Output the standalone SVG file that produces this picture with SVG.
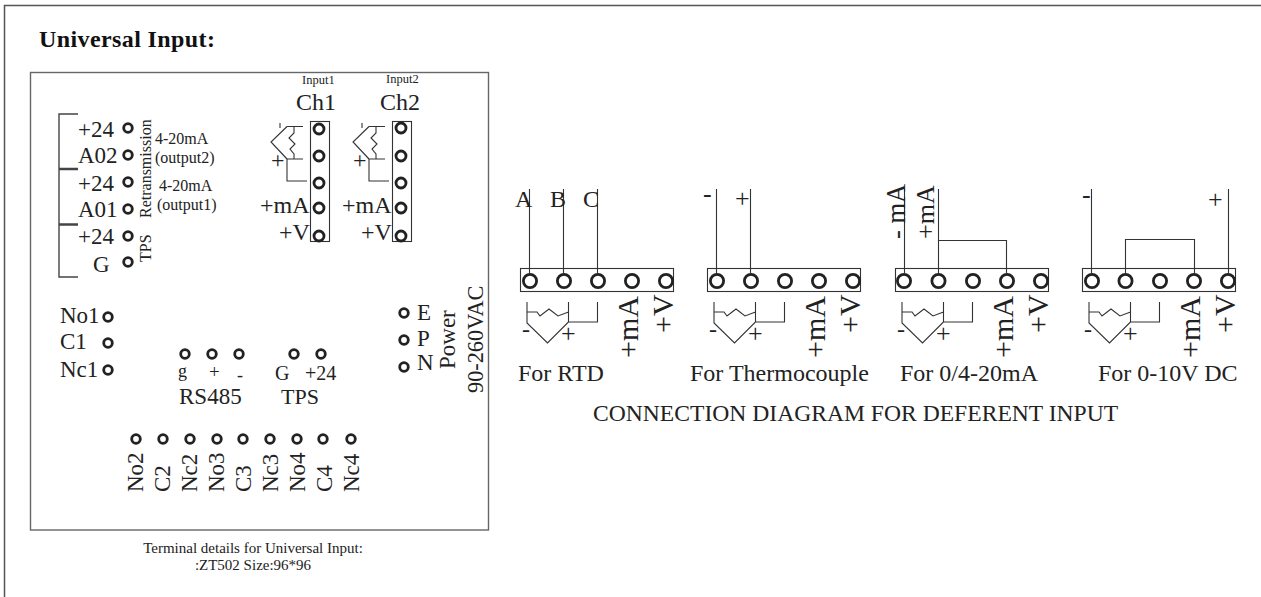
<svg xmlns="http://www.w3.org/2000/svg" width="1261" height="597" viewBox="0 0 1261 597">
<style>
text{font-family:"Liberation Serif","Times New Roman",serif;fill:#222}
.l{font-size:23px}.m{font-size:24px}.s{font-size:16px}.xs{font-size:12.5px}.c{font-size:15px;text-anchor:middle}
.f{font-size:24px}.pl{font-size:26px}
.big{font-size:30px}
.t{fill:none;stroke:#222;stroke-width:2.8}
.w{fill:none;stroke:#333;stroke-width:1.100}
.k{fill:none;stroke:#444;stroke-width:1.4}
</style>
<defs>
<path id="sym" class="w" d="M0 0V21L20.500 41L41.500 20V0M0 10H10L13 14L22 7L31 14L41.500 10M41.500 20H70.500V0"/>
<g id="tail">
<text class="f" x="-5" y="35">-</text><text class="pl" x="34" y="40">+</text>
</g>
<circle id="p" class="t" r="4.300"/>
<circle id="q" class="t" r="5"/>
<circle id="b" class="t" r="6.600"/>
</defs>
<rect width="1261" height="597" fill="#fff"/>
<path fill="none" stroke="#555" stroke-width="1.500" d="M4.500 597V5.500H1261"/>
<text x="39" y="47" font-size="24" font-weight="bold" textLength="176" style="fill:#111">Universal Input:</text>
<rect id="panel" x="30.500" y="72.500" width="458" height="457.500" fill="none" stroke="#666" stroke-width="1.400"/>
<g id="retrans">
<path class="k" d="M78 114H59V168.500H78M59 169.500H78M59 169V224H78M59 225H78M59 224V277H78"/>
<g class="l"><text x="78" y="137">+24</text><text x="78" y="163">A02</text><text x="78" y="191">+24</text><text x="78" y="217">A01</text><text x="78" y="244">+24</text><text x="93" y="272">G</text></g>
<use href="#p" x="128" y="128"/><use href="#p" x="128" y="155"/><use href="#p" x="128" y="182"/><use href="#p" x="128" y="209"/><use href="#p" x="128" y="236"/><use href="#p" x="128" y="262"/>
<text class="s" transform="translate(151 218) rotate(-90)">Retransmission</text>
<text class="s" transform="translate(151 262) rotate(-90)">TPS</text>
<text class="s" x="155" y="144">4-20mA</text><text class="s" x="155" y="163">(output2)</text>
<text class="s" x="159" y="191">4-20mA</text><text class="s" x="157" y="210">(output1)</text>
</g>
<g id="ch1">
<text class="xs" x="302" y="84">Input1</text><text class="m" x="296" y="110">Ch1</text>
<rect class="w" x="310.500" y="121.500" width="19" height="120"/>
<use href="#q" x="319" y="129"/><use href="#q" x="319" y="156"/><use href="#q" x="319" y="183"/><use href="#q" x="319" y="208"/><use href="#q" x="319" y="236"/>
<path class="w" d="M287 126.500H303M287 126.500L271 142L287 159M287 159H303"/>
<path class="w" d="M287 159V181H307M294 126.500V133L289 138L295 144L290 149L294 154V159M280 123V128"/>
<text class="m" x="271" y="168">+</text>
<text class="m" x="260" y="213">+mA</text><text class="m" x="279" y="240">+V</text>
</g>
<g id="ch2">
<text class="xs" x="386" y="83">Input2</text><text class="m" x="380" y="110">Ch2</text>
<rect class="w" x="392.500" y="121.500" width="19" height="120"/>
<use href="#q" x="401" y="128"/><use href="#q" x="401" y="156"/><use href="#q" x="401" y="183"/><use href="#q" x="401" y="208"/><use href="#q" x="401" y="236"/>
<path class="w" d="M369 126.500H385M369 126.500L353 142L369 159M369 159H385"/>
<path class="w" d="M369 159V181H389M376 126.500V133L371 138L377 144L372 149L376 154V159M362 123V128"/>
<text class="m" x="353" y="168">+</text>
<text class="m" x="342" y="213">+mA</text><text class="m" x="361" y="240">+V</text>
</g>
<g id="relay1">
<g class="l"><text x="60" y="323">No1</text><text x="60" y="349">C1</text><text x="60" y="377">Nc1</text></g>
<use href="#p" x="108" y="317"/><use href="#p" x="108" y="343"/><use href="#p" x="108" y="370"/>
</g>
<g id="rs485">
<use href="#p" x="185" y="354"/><use href="#p" x="212" y="354"/><use href="#p" x="239" y="354"/>
<text font-size="18" x="178" y="377">g</text><text font-size="19" x="209" y="378">+</text><text font-size="18" x="237" y="381">-</text>
<text class="l" x="179" y="404">RS485</text>
</g>
<g id="tps">
<use href="#p" x="294" y="354"/><use href="#p" x="321" y="354"/>
<text font-size="20" x="275" y="380">G</text><text font-size="20" x="305" y="380">+24</text>
<text font-size="22" x="281" y="404">TPS</text>
</g>
<g id="relays">
<use href="#p" x="136" y="439"/><use href="#p" x="163" y="439"/><use href="#p" x="190" y="439"/><use href="#p" x="217" y="439"/><use href="#p" x="243" y="439"/><use href="#p" x="270" y="439"/><use href="#p" x="297" y="439"/><use href="#p" x="323" y="439"/><use href="#p" x="351" y="439"/>
<g class="l">
<text transform="translate(143 492) rotate(-90)">No2</text><text transform="translate(170 492) rotate(-90)">C2</text><text transform="translate(197 492) rotate(-90)">Nc2</text><text transform="translate(224 492) rotate(-90)">No3</text><text transform="translate(251 492) rotate(-90)">C3</text><text transform="translate(278 492) rotate(-90)">Nc3</text><text transform="translate(305 492) rotate(-90)">No4</text><text transform="translate(332 492) rotate(-90)">C4</text><text transform="translate(359 492) rotate(-90)">Nc4</text>
</g>
</g>
<g id="power">
<use href="#p" x="404" y="313"/><use href="#p" x="404" y="340"/><use href="#p" x="404" y="367"/>
<g class="l"><text x="417" y="320">E</text><text x="417" y="346">P</text><text x="417" y="370">N</text></g>
<text class="l" transform="translate(455 369) rotate(-90)">Power</text>
<text font-size="22.300" transform="translate(483 393) rotate(-90)">90-260VAC</text>
</g>
<text class="c" x="253" y="553">Terminal details for Universal Input:</text>
<text class="c" x="253" y="570">:ZT502 Size:96*96</text>
<g id="rtd">
<rect class="w" x="520.500" y="268.500" width="153" height="23"/>
<use href="#b" x="530" y="281"/><use href="#b" x="564" y="281"/><use href="#b" x="598" y="281"/><use href="#b" x="632" y="281"/><use href="#b" x="666" y="281"/>
<use href="#sym" x="527" y="302"/><use href="#tail" x="527" y="302"/>
<path class="w" d="M529.500 189V274M563.500 189V274M597.500 189V274"/>
<text class="f" x="515" y="207">A</text><text class="f" x="550" y="207">B</text><text class="f" x="583" y="207">C</text>
<text class="big" transform="translate(638 358) rotate(-90)">+mA</text><text class="big" transform="translate(673 333) rotate(-90)">+V</text>
<text class="f" x="518" y="381">For RTD</text>
</g>
<g id="thermocouple">
<rect class="w" x="707.500" y="268.500" width="153" height="23"/>
<use href="#b" x="717" y="281"/><use href="#b" x="751" y="281"/><use href="#b" x="785" y="281"/><use href="#b" x="819" y="281"/><use href="#b" x="853" y="281"/>
<use href="#sym" x="714" y="302"/><use href="#tail" x="714" y="302"/>
<path class="w" d="M716.500 189V274M750.500 189V274"/>
<text class="pl" x="703" y="202">-</text><text class="pl" x="735" y="207">+</text>
<text class="big" transform="translate(825 358) rotate(-90)">+mA</text><text class="big" transform="translate(860 333) rotate(-90)">+V</text>
<text class="f" x="690" y="381">For Thermocouple</text>
</g>
<g id="ma">
<rect class="w" x="895.500" y="268.500" width="153" height="23"/>
<use href="#b" x="904" y="281"/><use href="#b" x="938.500" y="281"/><use href="#b" x="973" y="281"/><use href="#b" x="1007" y="281"/><use href="#b" x="1041" y="281"/>
<use href="#sym" x="902" y="302"/><use href="#tail" x="902" y="302"/>
<path class="w" d="M904.500 189V274M938.500 189V274M938.500 240.500H1006.500V274"/>
<text font-size="26.500" transform="translate(905 239) rotate(-90)">- mA</text><text class="pl" transform="translate(934 239) rotate(-90)">+mA</text>
<text class="big" transform="translate(1013 358) rotate(-90)">+mA</text><text class="big" transform="translate(1048 333) rotate(-90)">+V</text>
<text class="f" x="900" y="381">For 0/4-20mA</text>
</g>
<g id="dc">
<rect class="w" x="1082.500" y="268.500" width="153" height="23"/>
<use href="#b" x="1092" y="281"/><use href="#b" x="1125.500" y="281"/><use href="#b" x="1160" y="281"/><use href="#b" x="1194" y="281"/><use href="#b" x="1228" y="281"/>
<use href="#sym" x="1089" y="302"/><use href="#tail" x="1089" y="302"/>
<path class="w" d="M1091.500 189V274M1228.500 189V274M1125.500 274V239.500H1194.500V274"/>
<text class="pl" x="1082" y="203">-</text><text class="pl" x="1208" y="208">+</text>
<text class="big" transform="translate(1200 358) rotate(-90)">+mA</text><text class="big" transform="translate(1235 333) rotate(-90)">+V</text>
<text class="f" x="1098" y="381">For 0-10V DC</text>
</g>
<text font-size="23.600" x="593" y="421">CONNECTION DIAGRAM FOR DEFERENT INPUT</text>
</svg>
